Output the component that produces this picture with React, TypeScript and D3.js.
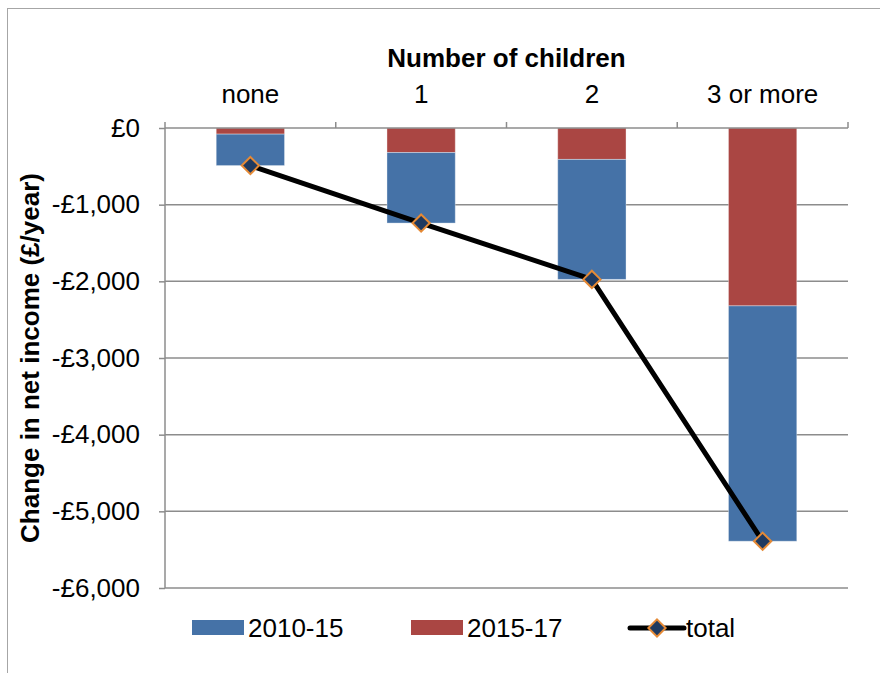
import React, { useEffect, useRef } from "react";
import * as d3 from "d3";

const categories = ["none", "1", "2", "3 or more"];
const change2010to15 = [-410, -920, -1565, -3070];
const change2015to17 = [-80, -320, -410, -2320];
const totals = [-490, -1240, -1975, -5390];
const yTicks = [0, -1000, -2000, -3000, -4000, -5000, -6000];

const BLUE = "#4572a7";
const RED = "#aa4643";
const FONT = "'Liberation Sans', Arial, sans-serif";

const App = () => {
  const width = 880;
  const height = 673;
  const ref = useRef(null);

  useEffect(() => {
    const svg = d3.select(ref.current);
    svg.selectAll("*").remove();

    const margin = { top: 128, right: 32, bottom: 85, left: 165 };
    const plotW = width - margin.left - margin.right;

    const x = d3
      .scaleBand()
      .domain(categories)
      .range([margin.left, margin.left + plotW])
      .paddingInner(0.6)
      .paddingOuter(0.3);
    const y = d3.scaleLinear().domain([0, -6000]).range([128, 588]);

    // outer frame
    svg
      .append("rect")
      .attr("x", 7.5)
      .attr("y", 8.5)
      .attr("width", 1000)
      .attr("height", 1000)
      .attr("fill", "#fff")
      .attr("stroke", "#a6a6a6")
      .attr("stroke-width", 1);

    // gridlines
    svg
      .append("g")
      .selectAll("line")
      .data(yTicks.filter((d) => d !== 0))
      .enter()
      .append("line")
      .attr("x1", margin.left)
      .attr("x2", margin.left + plotW)
      .attr("y1", (d) => y(d))
      .attr("y2", (d) => y(d))
      .attr("stroke", "#8c8c8c")
      .attr("stroke-width", 1.5);

    // stacked bars
    const rows = categories.map((c, i) => ({
      cat: c,
      s1517: change2015to17[i],
      s1015: change2010to15[i],
    }));
    const stack = d3
      .stack()
      .keys(["s1517", "s1015"])
      .offset(d3.stackOffsetDiverging);
    const layers = stack(rows);
    const colors = { s1517: RED, s1015: BLUE };

    svg
      .append("g")
      .selectAll("g")
      .data(layers)
      .enter()
      .append("g")
      .attr("fill", (d) => colors[d.key])
      .selectAll("rect")
      .data((d) => d)
      .enter()
      .append("rect")
      .attr("x", (d) => x(d.data.cat))
      .attr("width", x.bandwidth())
      .attr("y", (d) => y(d[1]))
      .attr("height", (d) => y(d[0]) - y(d[1]))
      .attr("stroke", "#ffffff")
      .attr("stroke-opacity", 0.35)
      .attr("stroke-width", 1);

    // y axis
    const fmt = d3.format(",");
    const yAxis = svg
      .append("g")
      .attr("transform", `translate(${margin.left},0)`)
      .call(
        d3
          .axisLeft(y)
          .tickValues(yTicks)
          .tickSize(6)
          .tickPadding(19)
          .tickFormat((d) => (d < 0 ? `-£${fmt(-d)}` : `£${d}`))
      );
    yAxis.select(".domain").remove();
    yAxis
      .append("line")
      .attr("x1", 0)
      .attr("x2", 0)
      .attr("y1", y(0))
      .attr("y2", y(-6000))
      .attr("stroke", "#8c8c8c")
      .attr("stroke-width", 1.5);
    yAxis.selectAll(".tick line").attr("stroke", "#8c8c8c").attr("stroke-width", 1.5);
    yAxis
      .selectAll("text")
      .attr("fill", "#000")
      .style("font-family", FONT)
      .style("font-size", "26px");

    // top category axis at zero
    const top = svg.append("g");
    top
      .append("line")
      .attr("x1", margin.left)
      .attr("x2", margin.left + plotW)
      .attr("y1", y(0))
      .attr("y2", y(0))
      .attr("stroke", "#8c8c8c")
      .attr("stroke-width", 1.5);
    const bounds = d3.range(categories.length + 1).map((i) => margin.left + i * x.step());
    top
      .selectAll("line.tk")
      .data(bounds)
      .enter()
      .append("line")
      .attr("class", "tk")
      .attr("x1", (d) => d)
      .attr("x2", (d) => d)
      .attr("y1", y(0) - 6)
      .attr("y2", y(0))
      .attr("stroke", "#8c8c8c")
      .attr("stroke-width", 1.5);
    top
      .selectAll("text")
      .data(categories)
      .enter()
      .append("text")
      .attr("x", (d) => x(d) + x.bandwidth() / 2)
      .attr("y", 103)
      .attr("text-anchor", "middle")
      .style("font-family", FONT)
      .style("font-size", "26px")
      .text((d) => d);

    svg
      .append("text")
      .attr("x", margin.left + plotW / 2)
      .attr("y", 67)
      .attr("text-anchor", "middle")
      .style("font-family", FONT)
      .style("font-size", "26px")
      .style("font-weight", "bold")
      .text("Number of children");

    svg
      .append("text")
      .attr("transform", `translate(39,${(y(0) + y(-6000)) / 2}) rotate(-90)`)
      .attr("text-anchor", "middle")
      .style("font-family", FONT)
      .style("font-size", "26px")
      .style("font-weight", "bold")
      .text("Change in net income (£/year)");

    // total line
    const line = d3
      .line()
      .x((d, i) => x(categories[i]) + x.bandwidth() / 2)
      .y((d) => y(d));
    svg
      .append("path")
      .datum(totals)
      .attr("fill", "none")
      .attr("stroke", "#000")
      .attr("stroke-width", 5)
      .attr("d", line);

    const diamond = d3.symbol().type(d3.symbolDiamond2).size(190);
    svg
      .append("g")
      .selectAll("path")
      .data(totals)
      .enter()
      .append("path")
      .attr("d", diamond)
      .attr(
        "transform",
        (d, i) => `translate(${x(categories[i]) + x.bandwidth() / 2},${y(d)})`
      )
      .attr("fill", "#1f3a60")
      .attr("stroke", "#e58a36")
      .attr("stroke-width", 2);

    // legend
    const lg = svg.append("g").style("font-family", FONT).style("font-size", "26px");
    const items = [
      { label: "2010-15", color: BLUE, x: 192 },
      { label: "2015-17", color: RED, x: 411 },
    ];
    items.forEach((it) => {
      lg.append("rect")
        .attr("x", it.x)
        .attr("y", 620)
        .attr("width", 52)
        .attr("height", 15)
        .attr("fill", it.color);
      lg.append("text")
        .attr("x", it.x + 56)
        .attr("y", 637)
        .text(it.label);
    });
    lg.append("line")
      .attr("x1", 630)
      .attr("x2", 684)
      .attr("y1", 628)
      .attr("y2", 628)
      .attr("stroke", "#000")
      .attr("stroke-width", 5)
      .attr("stroke-linecap", "round");
    lg.append("path")
      .attr("d", diamond)
      .attr("transform", "translate(657,628)")
      .attr("fill", "#1f3a60")
      .attr("stroke", "#e58a36")
      .attr("stroke-width", 2);
    lg.append("text").attr("x", 686).attr("y", 637).text("total");
  }, [height, width]);

  return (
    <div style={{ position: "absolute", left: 0, top: 0 }}>
      <svg ref={ref} width={width} height={height} style={{ display: "block" }} />
    </div>
  );
};

export default App;
